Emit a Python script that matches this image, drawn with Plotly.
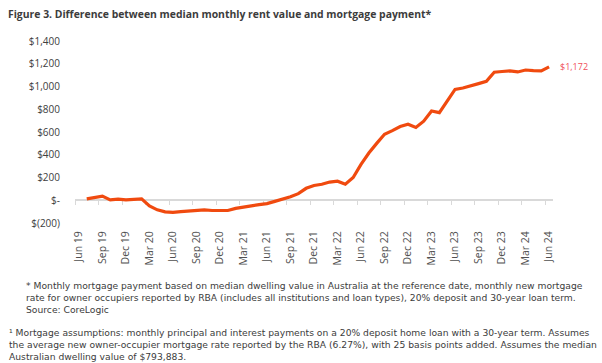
import plotly.graph_objects as go

# ---- data ----
months = [
    "Jun 19", "Jul 19", "Aug 19", "Sep 19", "Oct 19", "Nov 19", "Dec 19", "Jan 20", "Feb 20",
    "Mar 20", "Apr 20", "May 20", "Jun 20", "Jul 20", "Aug 20", "Sep 20", "Oct 20", "Nov 20",
    "Dec 20", "Jan 21", "Feb 21", "Mar 21", "Apr 21", "May 21", "Jun 21", "Jul 21", "Aug 21",
    "Sep 21", "Oct 21", "Nov 21", "Dec 21", "Jan 22", "Feb 22", "Mar 22", "Apr 22", "May 22",
    "Jun 22", "Jul 22", "Aug 22", "Sep 22", "Oct 22", "Nov 22", "Dec 22", "Jan 23", "Feb 23",
    "Mar 23", "Apr 23", "May 23", "Jun 23", "Jul 23", "Aug 23", "Sep 23", "Oct 23", "Nov 23",
    "Dec 23", "Jan 24", "Feb 24", "Mar 24", "Apr 24", "May 24", "Jun 24",
]
difference = [
    None, 12, 22, 36, 3, 10, 3, 4, 12,
    -50, -84, -102, -106, -100, -93, -88, -85, -90,
    -90, -90, -72, -58, -50, -38, -30, -10, 8,
    30, 58, 105, 130, 141, 160, 168, 141, 200,
    315, 415, 500, 580, 612, 648, 668, 640, 695,
    785, 770, 870, 975, 987, 1003, 1025, 1045, 1126,
    1132, 1137, 1128, 1145, 1140, 1137, 1172,
]
y_ticks = [-200, 0, 200, 400, 600, 800, 1000, 1200, 1400]
y_tick_text = ["$(200)", "$-", "$200", "$400", "$600", "$800", "$1,000", "$1,200", "$1,400"]

title_text = "Figure 3. Difference between median monthly rent value and mortgage payment*"
end_label = "$1,172"
note_1_lines = [
    "* Monthly mortgage payment based on median dwelling value in Australia at the reference date, monthly new mortgage",
    "rate for owner occupiers reported by RBA (includes all institutions and loan types), 20% deposit and 30-year loan term.",
    "Source: CoreLogic",
]
note_2_lines = [
    "¹ Mortgage assumptions: monthly principal and interest payments on a 20% deposit home loan with a 30-year term. Assumes",
    "the average new owner-occupier mortgage rate reported by the RBA (6.27%), with 25 basis points added. Assumes the median",
    "Australian dwelling value of $793,883.",
]

# ---- figure ----
idx = list(range(len(months)))
label_idx = idx[::3]
label_txt = months[::3]
boundary_ticks = [i - 0.5 for i in label_idx]

FONT = "Open Sans"
NOTE_FONT = "DejaVu Sans"
W, H = 602, 363
ml, mr, mt, mb = 75, 49, 41, 140
pw, ph = W - ml - mr, H - mt - mb


def px_x(X):
    return (X - ml) / pw


def px_y(Y):
    return (H - mb - Y) / ph


fig = go.Figure()
fig.add_trace(go.Scatter(
    x=idx, y=difference, mode="lines",
    line=dict(color="#f04a0f", width=3.2),
    connectgaps=False, showlegend=False, hoverinfo="skip",
))
fig.add_trace(go.Scatter(x=[], y=[], xaxis="x2", yaxis="y", showlegend=False))

fig.update_layout(
    width=W, height=H,
    margin=dict(l=ml, r=mr, t=mt, b=mb, autoexpand=False),
    paper_bgcolor="white", plot_bgcolor="white",
    font=dict(family=FONT, color="#404040"),
    title=dict(text="<b>" + title_text + "</b>", xref="container", yref="container",
               x=8 / W, xanchor="left", y=1 - 14 / H, yanchor="middle",
               font=dict(family=FONT, size=10.4, color="#3c3c3c")),
    xaxis=dict(
        range=[-0.5, 60.5], tickmode="array", tickvals=label_idx, ticktext=label_txt,
        tickangle=-90, showline=False, showgrid=False, zeroline=False,
        ticks="outside", ticklen=3, tickcolor="rgba(0,0,0,0)",
        tickfont=dict(family=FONT, size=10.5, color="#505050"),
    ),
    xaxis2=dict(
        overlaying="x", anchor="free", position=200 / 1600, range=[-0.5, 60.5],
        tickmode="array", tickvals=boundary_ticks, showticklabels=False,
        ticks="outside", ticklen=4, tickcolor="#d9d9d9", tickwidth=1,
        showline=True, linecolor="#d9d9d9", linewidth=1.5, showgrid=False,
        zeroline=False, layer="below traces",
    ),
    yaxis=dict(
        range=[-200, 1400], tickmode="array", tickvals=y_ticks, ticktext=y_tick_text,
        showgrid=False, zeroline=False, showline=False,
        ticks="outside", ticklen=12, tickcolor="rgba(0,0,0,0)",
        tickfont=dict(family=FONT, size=10, color="#404040"),
    ),
)

fig.add_annotation(
    x=idx[-1], y=difference[-1], xref="x", yref="y", text=end_label, showarrow=False,
    xanchor="left", yanchor="middle", xshift=9,
    font=dict(family=FONT, size=9, color="#f0505a"),
)

note_font = dict(family=NOTE_FONT, size=9.2, color="#3c3c3c")
fig.add_annotation(
    x=px_x(24), y=px_y(277.5), xref="paper", yref="paper", text="<br>".join(note_1_lines),
    showarrow=False, xanchor="left", yanchor="top", align="left", font=note_font,
)
fig.add_annotation(
    x=px_x(7), y=px_y(324.5), xref="paper", yref="paper", text="<br>".join(note_2_lines),
    showarrow=False, xanchor="left", yanchor="top", align="left", font=note_font,
)

fig.write_html("out.html", config={"displayModeBar": False},
               post_script="document.body.style.margin='0px';")
